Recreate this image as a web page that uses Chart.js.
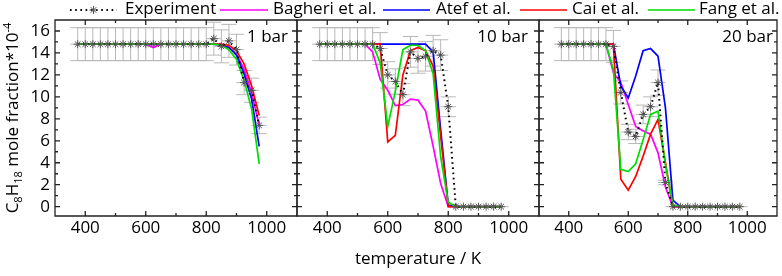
<!DOCTYPE html>
<html><head><meta charset="utf-8">
<script src="https://cdn.jsdelivr.net/npm/chart.js@4"></script>
<style>
html,body{margin:0;padding:0;background:#fff;}
#wrap{position:relative;width:782px;height:276px;overflow:hidden;font-family:'Open Sans',sans-serif;color:#000;}
canvas{position:absolute;left:0;top:0;}
.t{position:absolute;font-size:17px;line-height:20px;white-space:nowrap;}
.sw{position:absolute;top:0;}
#ytitle{position:absolute;left:-103px;top:108px;width:230px;height:20px;text-align:center;transform:rotate(-90deg);font-size:17px;line-height:20px;white-space:nowrap;}
#ytitle sub,#ytitle sup{font-size:11px;line-height:0;}
</style></head>
<body><div id="wrap">
<canvas id="c1" width="782" height="276"></canvas>
<canvas id="c2" width="782" height="276"></canvas>
<canvas id="c3" width="782" height="276"></canvas>
<div id="legend"></div>
<div id="ytitle">C<sub>8</sub>H<sub>18</sub> mole fraction*10<sup>-4</sup></div>
<div class="t" style="right:494px;top:26px;">1 bar</div>
<div class="t" style="right:254px;top:26px;">10 bar</div>
<div class="t" style="right:9px;top:26px;">20 bar</div>
</div>
<script>
const temps = [375,400,425,450,475,500,525,550,575,600,625,650,675,700,725,750,775,800,825,850,875,900,925,950,975];
const xTicks = [400,600,800,1000];
const xTickLabels = ['400','600','800','1000'];
const xMinor = [500,700,900];
const yTicks = [0,2,4,6,8,10,12,14,16];
const yTickLabels = ['0','2','4','6','8','10','12','14','16'];
const yMinor = [1,3,5,7,9,11,13,15];
const xErr = 25;
const xTitle = 'temperature / K';

// 1 bar
const exp1  = [14.8,14.8,14.8,14.8,14.8,14.8,14.8,14.8,14.8,14.8,14.8,14.8,14.8,14.8,14.8,14.8,14.8,14.8,15.3,14.6,15.1,14.3,11.3,10.6,7.4];
const err1  = [1.5,1.5,1.5,1.5,1.5,1.5,1.5,1.5,1.5,1.5,1.5,1.5,1.5,1.5,1.5,1.5,1.5,1.5,1.5,1.5,1.5,1.4,1.1,1.1,0.75];
const bag1  = [14.8,14.8,14.8,14.8,14.8,14.8,14.8,14.8,14.8,14.8,14.5,14.8,14.8,14.8,14.8,14.8,14.8,14.8,14.8,14.75,14.5,13.9,12.5,10.4,7.4];
const atef1 = [14.8,14.8,14.8,14.8,14.8,14.8,14.8,14.8,14.8,14.8,14.8,14.8,14.8,14.8,14.8,14.8,14.8,14.8,14.8,14.7,14.5,13.8,12.1,9.8,5.5];
const cai1  = [14.8,14.8,14.8,14.8,14.8,14.8,14.8,14.8,14.8,14.8,14.8,14.8,14.8,14.8,14.8,14.8,14.8,14.8,14.8,14.8,14.7,14.2,13.0,11.0,8.3];
const fang1 = [14.8,14.8,14.8,14.8,14.8,14.8,14.8,14.8,14.8,14.8,14.8,14.8,14.8,14.8,14.8,14.8,14.8,14.8,14.8,14.7,14.3,13.4,11.5,8.9,3.9];

// 10 bar
const exp2  = [14.8,14.8,14.8,14.8,14.8,14.8,14.8,14.8,14.4,12.0,11.4,10.2,14.1,13.5,13.7,14.2,13.8,9.1,0,0,0,0,0,0,0];
const err2  = [1.5,1.5,1.5,1.5,1.5,1.5,1.5,1.5,1.45,1.2,1.15,1.0,1.4,1.35,1.35,1.4,1.4,0.9,0,0,0,0,0,0,0];
const bag2  = [14.8,14.8,14.8,14.8,14.8,14.8,14.8,14.1,11.6,10.6,9.2,9.3,9.8,9.7,8.7,5.5,2.1,0,0,0,0,0,0,0,0];
const atef2 = [14.8,14.8,14.8,14.8,14.8,14.8,14.8,14.8,14.8,14.8,14.8,14.8,14.8,14.8,14.8,14.1,7.0,0.15,0,0,0,0,0,0,0];
const cai2  = [14.8,14.8,14.8,14.8,14.8,14.8,14.8,14.8,14.8,5.9,6.5,12.0,14.2,14.5,14.2,12.8,6.4,0,0,0,0,0,0,0,0];
const fang2 = [14.8,14.8,14.8,14.8,14.8,14.8,14.8,14.8,13.1,7.3,10.5,14.3,14.7,14.7,14.2,12.1,4.5,0.4,0,0,0,0,0,0,0];

// 20 bar
const exp3  = [14.8,14.8,14.8,14.8,14.8,14.8,14.8,14.6,10.4,6.8,6.4,8.4,9.1,11.3,2.2,0,0,0,0,0,0,0,0,0,0];
const err3  = [1.5,1.5,1.5,1.5,1.5,1.5,1.5,1.45,1.05,0.7,0.65,0.85,0.9,1.15,0.2,0,0,0,0,0,0,0,0,0,0];
const bag3  = [14.8,14.8,14.8,14.8,14.8,14.8,14.8,12.2,11.3,9.3,7.3,6.9,6.6,4.9,1.8,0,0,0,0,0,0,0,0,0,0];
const atef3 = [14.8,14.8,14.8,14.8,14.8,14.8,14.8,14.8,11.0,9.9,11.9,14.2,14.4,13.7,9.0,0.6,0,0,0,0,0,0,0,0,0];
const cai3  = [14.8,14.8,14.8,14.8,14.8,14.8,14.8,14.8,2.5,1.5,2.75,4.6,6.6,7.95,4.0,0,0,0,0,0,0,0,0,0,0];
const fang3 = [14.8,14.8,14.8,14.8,14.8,14.8,14.8,12.5,3.4,3.2,3.9,6.1,8.4,8.7,3.8,0.15,0,0,0,0,0,0,0,0,0];

const seriesNames = ['Experiment','Bagheri et al.','Atef et al.','Cai et al.','Fang et al.'];
const seriesColors = ['#000000','#ff00ff','#0000ff','#ff0000','#00dd00'];

const panels = [
  {id:'c1', L:55,  R:297, showY:true,  showTitle:false, exp:exp1, err:err1, models:[bag1,atef1,cai1,fang1]},
  {id:'c2', L:297, R:539, showY:false, showTitle:true,  exp:exp2, err:err2, models:[bag2,atef2,cai2,fang2]},
  {id:'c3', L:539, R:781, showY:false, showTitle:false, exp:exp3, err:err3, models:[bag3,atef3,cai3,fang3]}
];

const FONT = {family:"'Open Sans', sans-serif", size:17};

const decor = {
  id:'decor',
  beforeDatasetsDraw(chart){
    const o = chart.options.plugins.decor;
    const {ctx} = chart; const x = chart.scales.x, y = chart.scales.y;
    ctx.save();
    ctx.strokeStyle = '#b8b8b8'; ctx.lineWidth = 1;
    ctx.beginPath();
    o.vals.forEach((v,i)=>{
      const t = temps[i], e = o.errs[i];
      const px = x.getPixelForValue(t), pl = x.getPixelForValue(t-xErr), pr = x.getPixelForValue(t+xErr);
      const py = y.getPixelForValue(v);
      ctx.moveTo(pl,py); ctx.lineTo(pr,py);
      if(e>0){
        const pt = y.getPixelForValue(v+e), pb = y.getPixelForValue(v-e);
        ctx.moveTo(px,pt); ctx.lineTo(px,pb);
        ctx.moveTo(pl,pt); ctx.lineTo(pr,pt);
        ctx.moveTo(pl,pb); ctx.lineTo(pr,pb);
      }
    });
    ctx.stroke();
    ctx.restore();
  },
  afterDraw(chart){
    const {ctx, chartArea:a} = chart; const x = chart.scales.x, y = chart.scales.y;
    ctx.save();
    ctx.strokeStyle = '#222'; ctx.lineWidth = 1.3;
    ctx.beginPath();
    const tick = (vals, len) => {
      vals.forEach(v=>{
        const px = x.getPixelForValue(v);
        ctx.moveTo(px,a.bottom); ctx.lineTo(px,a.bottom-len);
        ctx.moveTo(px,a.top); ctx.lineTo(px,a.top+len);
      });
    };
    const ytick = (vals, len) => {
      vals.forEach(v=>{
        const py = y.getPixelForValue(v);
        ctx.moveTo(a.left,py); ctx.lineTo(a.left+len,py);
        ctx.moveTo(a.right,py); ctx.lineTo(a.right-len,py);
      });
    };
    tick(xTicks,5); tick(xMinor,3); ytick(yTicks,5); ytick(yMinor,3);
    ctx.rect(a.left,a.top,a.right-a.left,a.bottom-a.top);
    ctx.stroke();
    ctx.restore();
  }
};

function pts(vals){ return temps.map((t,i)=>({x:t,y:vals[i]})); }

panels.forEach(p=>{
  const datasets = [{
    label:seriesNames[0], data:pts(p.exp), borderColor:'#000', borderWidth:2, borderDash:[1.6,3.6],
    pointStyle:'star', pointRadius:4, pointBorderColor:'#555', pointBackgroundColor:'#555', pointBorderWidth:1, order:0
  }];
  p.models.forEach((m,k)=>{
    datasets.push({label:seriesNames[k+1], data:pts(m), borderColor:seriesColors[k+1], borderWidth:1.7,
      pointRadius:0, order:4-k+1});
  });
  const yW = p.showY ? p.L : 0;
  new Chart(document.getElementById(p.id), {
    type:'line',
    data:{datasets},
    options:{
      responsive:false, animation:false, devicePixelRatio:1,
      layout:{padding:{left:p.L - yW, right:782-p.R, top:20, bottom:0}},
      plugins:{legend:{display:false}, tooltip:{enabled:false}, decor:{vals:p.exp, errs:p.err}},
      scales:{
        x:{type:'linear', min:300, max:1100,
          grid:{display:false, drawTicks:false}, border:{display:false},
          afterBuildTicks:(s)=>{ s.ticks = xTicks.map(v=>({value:v})); },
          afterFit:(s)=>{ s.height=60; s.paddingLeft=0; s.paddingRight=0; s.paddingTop=0; s.paddingBottom=0; },
          title:{display:p.showTitle, text:xTitle, font:FONT, color:'#000', padding:{top:0,bottom:7}},
          ticks:{font:FONT, color:'#000', padding:2, maxRotation:0, autoSkip:false,
            callback:(v)=>xTickLabels[xTicks.indexOf(v)]}},
        y:{type:'linear', min:-0.85, max:17,
          grid:{display:false, drawTicks:false}, border:{display:false},
          afterBuildTicks:(s)=>{ s.ticks = yTicks.map(v=>({value:v})); },
          afterFit:(s)=>{ s.width=yW; s.paddingLeft=0; s.paddingRight=0; s.paddingTop=0; s.paddingBottom=0; },
          ticks:{display:p.showY, font:FONT, color:'#000', padding:5,
            callback:(v)=>yTickLabels[yTicks.indexOf(v)]}}
      }
    },
    plugins:[decor]
  });
});

// legend
const legendPos = [
  {sx:70, sw:47, tx:125},
  {sx:220, sw:48, tx:273},
  {sx:383, sw:47, tx:436},
  {sx:520, sw:47, tx:572},
  {sx:648, sw:47, tx:699}
];
const lg = document.getElementById('legend');
seriesNames.forEach((n,i)=>{
  const p = legendPos[i];
  let svg;
  if(i===0){
    svg = `<svg class="sw" style="left:${p.sx}px" width="${p.sw}" height="20"><line x1="0" y1="10" x2="${p.sw}" y2="10" stroke="#000" stroke-width="2" stroke-dasharray="1.6 3.6"/>`+
      `<g stroke="#555" stroke-width="1"><line x1="${p.sw/2-4}" y1="10" x2="${p.sw/2+4}" y2="10"/><line x1="${p.sw/2}" y1="6" x2="${p.sw/2}" y2="14"/><line x1="${p.sw/2-2.8}" y1="7.2" x2="${p.sw/2+2.8}" y2="12.8"/><line x1="${p.sw/2-2.8}" y1="12.8" x2="${p.sw/2+2.8}" y2="7.2"/></g></svg>`;
  } else {
    svg = `<svg class="sw" style="left:${p.sx}px" width="${p.sw}" height="20"><line x1="0" y1="10" x2="${p.sw}" y2="10" stroke="${seriesColors[i]}" stroke-width="1.7"/></svg>`;
  }
  lg.insertAdjacentHTML('beforeend', svg + `<div class="t" style="left:${p.tx}px;top:-2px;">${n}</div>`);
});
</script>
</body></html>
